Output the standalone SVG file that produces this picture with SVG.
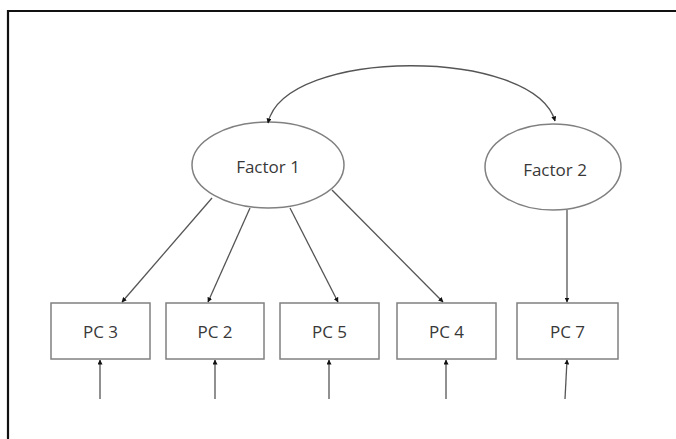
<svg xmlns="http://www.w3.org/2000/svg" width="676" height="439" viewBox="0 0 676 439">
<style>
.frame{fill:none;stroke:#111;stroke-width:2.2}
.node{fill:#fff;stroke:#808080;stroke-width:1.5}
.lbl{font-family:"Open Sans","Liberation Sans",sans-serif;font-size:17px;fill:#383838;text-anchor:middle;dominant-baseline:central}
.edge{fill:none;stroke:#555;stroke-width:1.3}
</style>
<defs>
<marker id="ah" viewBox="0 0 10 10" refX="9" refY="5" markerWidth="5" markerHeight="5" orient="auto" markerUnits="userSpaceOnUse">
<path d="M0,0 L10,5 L0,10 z" fill="#111"/>
</marker>
<marker id="ahs" viewBox="0 0 10 10" refX="9" refY="5" markerWidth="5" markerHeight="5" orient="auto-start-reverse" markerUnits="userSpaceOnUse">
<path d="M0,0 L10,5 L0,10 z" fill="#111"/>
</marker>
</defs>
<rect width="676" height="439" fill="#fff"/>
<path class="frame" d="M8,439 L8,11 L676,11"/>
<g id="factor1"><ellipse class="node" cx="268" cy="165" rx="76" ry="43"/><text class="lbl" x="268" y="166">Factor 1</text></g>
<g id="factor2"><ellipse class="node" cx="553" cy="167" rx="68" ry="43"/><text class="lbl" x="555" y="169">Factor 2</text></g>
<g id="pc3"><rect class="node" x="51" y="303" width="99" height="56"/><text class="lbl" x="100.5" y="331">PC 3</text></g>
<g id="pc2"><rect class="node" x="166" y="303" width="98" height="56"/><text class="lbl" x="215" y="331">PC 2</text></g>
<g id="pc5"><rect class="node" x="280" y="303" width="99" height="56"/><text class="lbl" x="329.5" y="331">PC 5</text></g>
<g id="pc4"><rect class="node" x="397" y="303" width="99" height="56"/><text class="lbl" x="446.5" y="331">PC 4</text></g>
<g id="pc7"><rect class="node" x="517" y="303" width="101" height="56"/><text class="lbl" x="567.5" y="331">PC 7</text></g>
<g id="connectors">
<path class="edge" d="M268,123 C285,47 534,47 555,121" marker-start="url(#ahs)" marker-end="url(#ah)"/>
<line class="edge" x1="212" y1="198" x2="122" y2="302" marker-end="url(#ah)"/>
<line class="edge" x1="250" y1="208" x2="208" y2="302" marker-end="url(#ah)"/>
<line class="edge" x1="290" y1="208" x2="338" y2="302" marker-end="url(#ah)"/>
<line class="edge" x1="332" y1="190" x2="443" y2="302" marker-end="url(#ah)"/>
<line class="edge" x1="567" y1="210" x2="567" y2="302" marker-end="url(#ah)"/>
<line class="edge" x1="100" y1="399" x2="100" y2="360" marker-end="url(#ah)"/>
<line class="edge" x1="215" y1="399" x2="215" y2="360" marker-end="url(#ah)"/>
<line class="edge" x1="329" y1="399" x2="329" y2="360" marker-end="url(#ah)"/>
<line class="edge" x1="446" y1="399" x2="446" y2="360" marker-end="url(#ah)"/>
<line class="edge" x1="565" y1="399" x2="567" y2="360" marker-end="url(#ah)"/>
</g>
</svg>
